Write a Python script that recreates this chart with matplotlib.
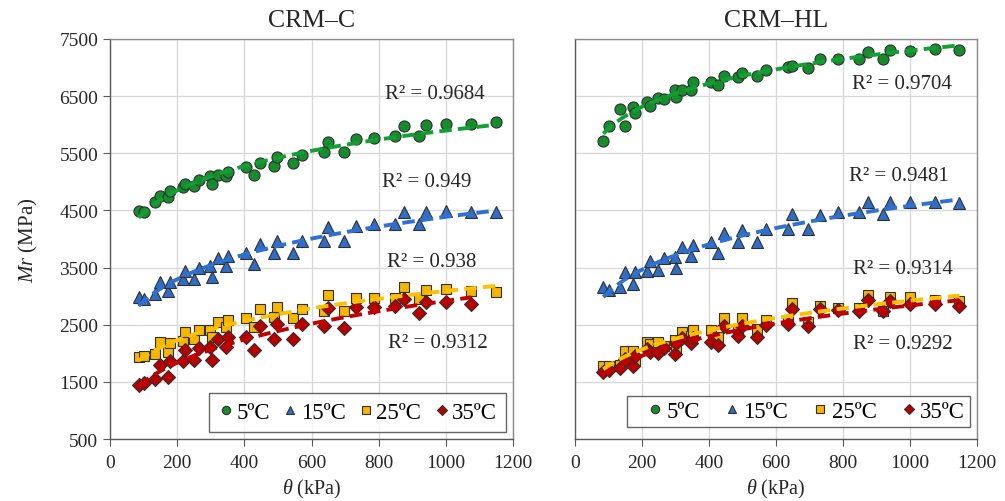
import numpy as np
import matplotlib
matplotlib.use("Agg")
import matplotlib.pyplot as plt

plt.rcParams['font.family'] = ['Liberation Serif', 'DejaVu Serif']
plt.rcParams['mathtext.fontset'] = 'custom'
plt.rcParams['mathtext.rm'] = 'Liberation Serif'
plt.rcParams['mathtext.it'] = 'Liberation Serif:italic'

# bulk stress theta (kPa), shared by all series
theta = [85, 102, 134, 150, 173, 179, 216, 224, 249, 265, 298, 303, 320, 346, 352, 406, 428,
         446, 487, 498, 545, 572, 637, 649, 697, 732, 786, 848, 876, 921, 942, 1000, 1075, 1148]

temps = ['5ºC', '15ºC', '25ºC', '35ºC']

# CRM-C
c_5 = [4496, 4467, 4642, 4758, 4729, 4834, 4904, 4962, 4933, 5038, 5108, 4962, 5126, 5097, 5178, 5266, 5126,
       5324, 5283, 5429, 5324, 5470, 5517, 5692, 5517, 5750, 5767, 5797, 5972, 5797, 6001, 6012, 6012, 6042]
c_15 = [2979, 2950, 3037, 3242, 3096, 3242, 3300, 3446, 3300, 3487, 3533, 3329, 3662, 3521, 3708, 3755, 3562,
        3912, 3749, 3971, 3749, 3971, 3971, 4210, 3971, 4230, 4262, 4262, 4467, 4262, 4478, 4496, 4478, 4478]
c_25 = [1929, 1946, 1987, 2192, 2017, 2180, 2221, 2367, 2250, 2413, 2413, 2279, 2553, 2454, 2588, 2612, 2454,
        2775, 2629, 2804, 2612, 2775, 2746, 3020, 2746, 2962, 2962, 2962, 3154, 2950, 3112, 3125, 3096, 3078]
c_35 = [1445, 1480, 1550, 1795, 1579, 1871, 1871, 2063, 1888, 2087, 2104, 1888, 2250, 2104, 2279, 2279, 2063,
        2472, 2250, 2512, 2250, 2512, 2472, 2787, 2437, 2804, 2804, 2833, 2950, 2705, 2903, 2903, 2862]

# CRM-HL
h_5 = [5721, 5972, 6275, 5972, 6304, 6205, 6403, 6333, 6462, 6450, 6613, 6479, 6613, 6613, 6742, 6742, 6695,
       6847, 6829, 6905, 6847, 6963, 7004, 7030, 6987, 7150, 7150, 7150, 7278, 7150, 7313, 7296, 7325, 7313]
h_15 = [3154, 3113, 3154, 3417, 3212, 3417, 3446, 3621, 3463, 3662, 3691, 3487, 3854, 3708, 3895, 3953, 3755,
        4105, 3942, 4163, 3953, 4175, 4175, 4437, 4175, 4420, 4467, 4467, 4642, 4437, 4642, 4642, 4653, 4630]
h_25 = [1783, 1770, 1800, 2046, 2046, 1871, 2203, 2162, 2203, 2120, 2238, 2104, 2378, 2300, 2413, 2413, 2279,
        2612, 2425, 2612, 2425, 2588, 2588, 2880, 2553, 2822, 2787, 2787, 3020, 2746, 2979, 2979, 2938, 2921]
h_35 = [1667, 1713, 1737, 1900, 1772, 1946, 2075, 2028, 2000, 2100, 1987, 2180, 2262, 2180, 2262, 2200, 2145,
        2483, 2308, 2472, 2279, 2495, 2512, 2775, 2472, 2775, 2763, 2746, 2938, 2746, 2921, 2862, 2862, 2822]

r2_c = ['0.9684', '0.949', '0.938', '0.9312']
r2_h = ['0.9704', '0.9481', '0.9314', '0.9292']

# label positions (data coords)
r2_c_pos = [(967, 6537), (943, 4997), (958, 3597), (976, 2197)]
r2_h_pos = [(976, 6712), (967, 5103), (979, 3475), (979, 2163)]

markers = ['o', '^', 's', 'D']
face = ['#168c2c', '#2f6ec4', '#f7b500', '#b80000']
line_col = ['#12a035', '#2f70d0', '#ffc000', '#c00000']
msize = [8, 8.5, 7, 7]

fig = plt.figure(figsize=(10.05, 5.02), dpi=100)
ax1 = fig.add_axes([0.1095, 0.1235, 0.401, 0.797])
ax2 = fig.add_axes([0.572, 0.1235, 0.400, 0.797])


def power_fit(x, y):
    b, ln_a = np.polyfit(np.log(x), np.log(y), 1)
    xs = np.linspace(min(x), max(x), 200)
    return xs, np.exp(ln_a) * xs ** b


def draw_panel(ax, series, r2, r2_pos, title, leg_kw):
    handles = []
    for i, y in enumerate(series):
        x = theta[:len(y)]
        h, = ax.plot(x, y, linestyle='none', marker=markers[i], ms=msize[i],
                     mfc=face[i], mec='#303030', mew=0.8, zorder=3, label=temps[i])
        handles.append(h)
        xs, ys = power_fit(x, y)
        ax.plot(xs, ys, color=line_col[i], lw=2.8, ls=(0, (3.2, 1.6)), zorder=4)
        ax.text(r2_pos[i][0], r2_pos[i][1], 'R² = ' + r2[i], ha='center', va='center',
                fontsize=15, color='#262626', zorder=5)
    ax.set_xlim(0, 1200)
    ax.set_ylim(500, 7500)
    ax.set_xticks(range(0, 1201, 200))
    ax.set_yticks(range(500, 7501, 1000))
    ax.grid(True, color='#d9d9d9', lw=1)
    ax.set_axisbelow(True)
    for s in ax.spines.values():
        s.set_color('#8c8c8c')
        s.set_linewidth(1)
    ax.spines['bottom'].set_color('#595959')
    ax.spines['left'].set_color('#595959')
    ax.tick_params(axis='both', labelsize=14, colors='#595959', labelcolor='#262626',
                   direction='out', length=5)
    ax.tick_params(axis='x', pad=6)
    ax.set_title(title, fontsize=18.5, color='#262626', pad=9)
    ax.set_xlabel(r'$\mathit{\theta}$ (kPa)', fontsize=14.5, color='#262626', labelpad=4)
    leg = ax.legend(handles=handles, ncol=4, loc='lower right', markerscale=0.75,
                    fancybox=False, borderaxespad=0, edgecolor='#404040', **leg_kw)
    leg.get_frame().set_linewidth(1)
    return ax


draw_panel(ax1, [c_5, c_15, c_25, c_35], r2_c, r2_c_pos, 'CRM–C',
           dict(bbox_to_anchor=(0.983, 0.0175), fontsize=16.5, handlelength=0.7,
                handletextpad=0.1, columnspacing=0.55, borderpad=0.4))
draw_panel(ax2, [h_5, h_15, h_25, h_35], r2_h, r2_h_pos, 'CRM–HL',
           dict(bbox_to_anchor=(0.983, 0.03), fontsize=16.5, handlelength=2.0,
                handletextpad=-0.5, columnspacing=0.4, borderpad=0.22))

ax1.set_ylabel(r'$\mathit{Mr}$ (MPa)', fontsize=15, color='#262626', labelpad=14)
ax2.tick_params(axis='y', left=False, labelleft=False)

fig.savefig('out.png', dpi=100)
